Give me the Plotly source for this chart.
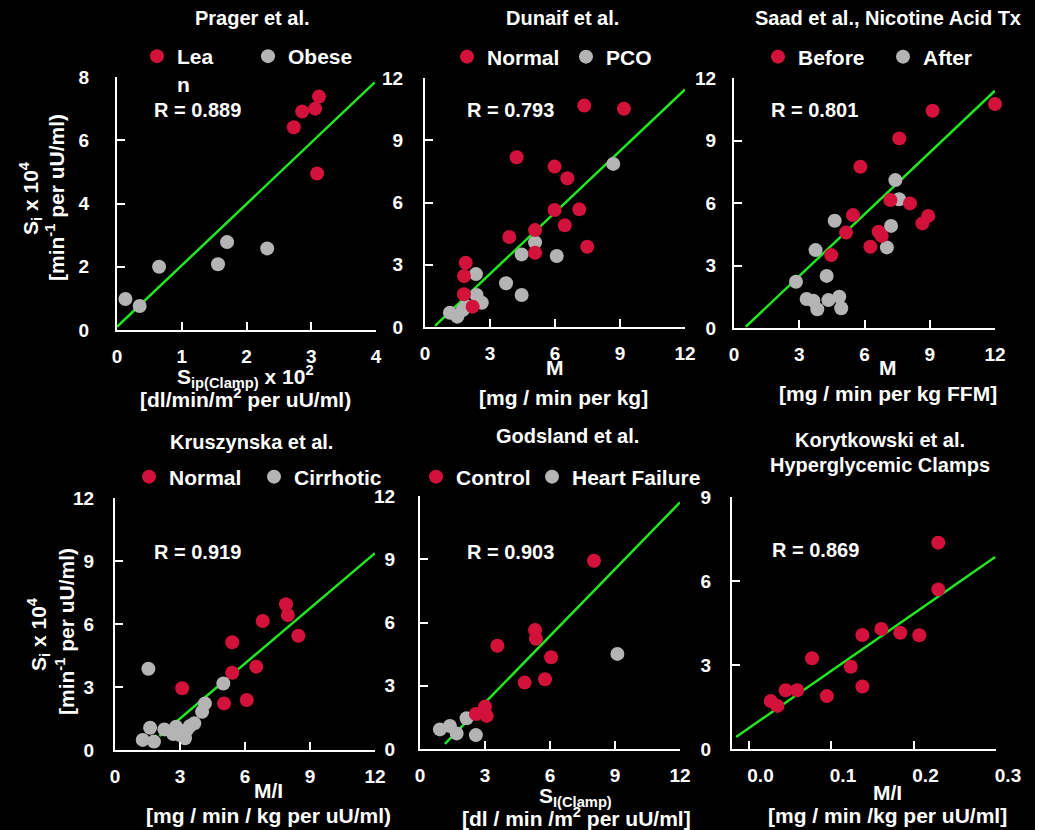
import plotly.graph_objects as go

W, H = 1050, 830
RED = '#D2123A'
GRAY = '#B4B4B4'
GREEN = '#22E622'
FONT = 'Liberation Sans, Arial, sans-serif'

# ---------------- data ----------------
prager_lean_x = [3.12, 2.86, 3.06, 2.73, 3.09]
prager_lean_y = [7.38, 6.91, 7.00, 6.41, 4.95]
prager_obese_x = [0.13, 0.35, 0.65, 1.56, 1.70, 2.32]
prager_obese_y = [0.98, 0.76, 2.00, 2.08, 2.78, 2.58]
prager_fit_x = [0.0, 3.98]
prager_fit_y = [0.10, 7.83]

dunaif_normal_x = [7.35, 9.18, 4.23, 5.98, 6.57, 5.98, 7.12, 5.08, 6.45, 3.89, 7.49, 5.08, 1.88, 1.80, 1.80, 2.20]
dunaif_normal_y = [10.67, 10.52, 8.18, 7.73, 7.17, 5.64, 5.67, 4.67, 4.90, 4.34, 3.87, 3.58, 3.10, 2.46, 1.58, 0.98]
dunaif_pco_x = [8.69, 5.08, 4.46, 6.08, 2.35, 3.74, 4.46, 2.38, 2.62, 1.89, 1.15, 1.49, 1.74]
dunaif_pco_y = [7.86, 4.08, 3.50, 3.42, 2.55, 2.11, 1.54, 1.54, 1.17, 1.01, 0.69, 0.50, 0.82]
dunaif_fit_x = [0.46, 12.0]
dunaif_fit_y = [0.05, 11.45]

saad_before_x = [12.0, 9.13, 7.60, 5.81, 7.19, 8.09, 5.47, 8.93, 8.66, 5.15, 6.65, 6.79, 6.27, 4.47]
saad_before_y = [10.75, 10.43, 9.10, 7.74, 6.14, 5.98, 5.42, 5.38, 5.02, 4.58, 4.62, 4.42, 3.90, 3.50]
saad_after_x = [7.42, 7.59, 4.63, 7.22, 7.03, 3.75, 4.26, 2.85, 3.34, 3.65, 4.34, 4.84, 3.83, 4.93]
saad_after_y = [7.10, 6.18, 5.15, 4.90, 3.87, 3.74, 2.50, 2.22, 1.39, 1.31, 1.34, 1.50, 0.90, 0.95]
saad_fit_x = [0.54, 12.0]
saad_fit_y = [0.06, 11.39]

krus_normal_x = [7.89, 7.98, 6.82, 8.46, 5.41, 6.52, 5.41, 3.10, 6.08, 5.03]
krus_normal_y = [6.94, 6.43, 6.14, 5.44, 5.13, 3.97, 3.68, 2.94, 2.38, 2.22]
krus_cirr_x = [1.54, 5.00, 4.15, 4.02, 3.66, 1.62, 2.28, 2.82, 3.31, 3.00, 2.69, 3.23, 1.28, 1.80, 3.46]
krus_cirr_y = [3.87, 3.17, 2.22, 1.82, 1.27, 1.06, 0.98, 1.11, 0.95, 0.71, 0.76, 0.56, 0.48, 0.40, 1.14]
krus_fit_x = [2.05, 12.0]
krus_fit_y = [0.67, 9.37]

gods_control_x = [8.03, 3.57, 5.31, 5.35, 6.05, 5.77, 4.83, 3.00, 3.08, 2.58, 2.97]
gods_control_y = [8.93, 4.90, 5.65, 5.23, 4.35, 3.31, 3.15, 2.01, 1.57, 1.66, 1.77]
gods_hf_x = [9.11, 2.15, 1.38, 0.92, 1.69, 2.58]
gods_hf_y = [4.51, 1.46, 1.09, 0.93, 0.74, 0.66]
gods_fit_x = [1.15, 12.0]
gods_fit_y = [0.24, 11.70]

kory_x = [0.027, 0.035, 0.045, 0.059, 0.077, 0.095, 0.124, 0.138, 0.138, 0.161, 0.184, 0.207, 0.230, 0.230]
kory_y = [1.71, 1.54, 2.10, 2.10, 3.24, 1.89, 2.94, 2.23, 4.07, 4.29, 4.15, 4.06, 5.70, 7.37]
kory_fit_x = [-0.015, 0.299]
kory_fit_y = [0.43, 6.86]
kory_tickvals = [0.0, 0.1, 0.2, 0.3]
kory_ticktext = ['0.0', '0.1', '0.2', '0.3']

titles = ['Prager et al.', 'Dunaif et al.', 'Saad et al., Nicotine Acid Tx',
          'Kruszynska et al.', 'Godsland et al.', 'Korytkowski et al.', 'Hyperglycemic Clamps']
r_labels = ['R = 0.889', 'R = 0.793', 'R = 0.801', 'R = 0.919', 'R = 0.903', 'R = 0.869']
legend_names = [('Lea<br>n', 'Obese'), ('Normal', 'PCO'), ('Before', 'After'),
                ('Normal', 'Cirrhotic'), ('Control', 'Heart Failure')]


def fx(p):
    return p / W


def fy(p):
    return 1 - p / H


fig = go.Figure()

panels = [
    dict(xp=(117, 376), yp=(77, 330), xr=[0, 4], yr=[0, 8], dx=1, dy=2, so=22, sh=0),
    dict(xp=(425, 685), yp=(78, 327), xr=[0, 12], yr=[0, 12], dx=3, dy=3, so=16, sh=0),
    dict(xp=(734, 995), yp=(78, 328), xr=[0, 12], yr=[0, 12], dx=3, dy=3, so=12, sh=0),
    dict(xp=(115, 375), yp=(498, 750), xr=[0, 12], yr=[0, 12], dx=3, dy=3, so=15, sh=0),
    dict(xp=(420, 680), yp=(496, 749), xr=[0, 12], yr=[0, 12], dx=3, dy=3, so=19, sh=0),
    dict(xp=(732, 996), yp=(497, 749), xr=[-0.02, 0.3], yr=[0, 9], dx=0.1, dy=3, so=15, sh=12),
]

series = [
    (prager_fit_x, prager_fit_y, [(prager_obese_x, prager_obese_y, GRAY), (prager_lean_x, prager_lean_y, RED)]),
    (dunaif_fit_x, dunaif_fit_y, [(dunaif_pco_x, dunaif_pco_y, GRAY), (dunaif_normal_x, dunaif_normal_y, RED)]),
    (saad_fit_x, saad_fit_y, [(saad_after_x, saad_after_y, GRAY), (saad_before_x, saad_before_y, RED)]),
    (krus_fit_x, krus_fit_y, [(krus_cirr_x, krus_cirr_y, GRAY), (krus_normal_x, krus_normal_y, RED)]),
    (gods_fit_x, gods_fit_y, [(gods_hf_x, gods_hf_y, GRAY), (gods_control_x, gods_control_y, RED)]),
    (kory_fit_x, kory_fit_y, [(kory_x, kory_y, RED)]),
]

# legend: (left px, centre y px, red entry width, gray entry width)
legend_pos = [(137, 70, 66, 70), (447, 57, 74, 55), (758, 57, 80, 60), (129, 477, 80, 100), (416, 477, 71, 140)]

layout = dict(
    width=W, height=H, margin=dict(l=0, r=0, t=0, b=0, autoexpand=False),
    paper_bgcolor='black', plot_bgcolor='black',
    font=dict(family=FONT, color='white'),
    showlegend=True,
)

tickfont = dict(family=FONT, size=19, color='white', weight='bold')

for i, (pn, (fxs, fys, groups)) in enumerate(zip(panels, series)):
    k = '' if i == 0 else str(i + 1)
    xa = dict(domain=[fx(pn['xp'][0]), fx(pn['xp'][1])], range=pn['xr'], anchor='y' + k,
              showline=True, linecolor='white', linewidth=2, ticks='inside', ticklen=8,
              tickwidth=2, tickcolor='white', showgrid=False, zeroline=False,
              tickfont=tickfont, ticklabelstandoff=8, ticklabelshift=pn['sh'],
              tick0=0, dtick=pn['dx'], fixedrange=True)
    ya = dict(domain=[fy(pn['yp'][1]), fy(pn['yp'][0])], range=pn['yr'], anchor='x' + k,
              showline=True, linecolor='white', linewidth=2, ticks='inside', ticklen=8,
              tickwidth=2, tickcolor='white', showgrid=False, zeroline=False,
              tickfont=tickfont, ticklabelstandoff=pn['so'], tick0=0, dtick=pn['dy'], fixedrange=True)
    if i == 5:
        xa.update(tickmode='array', tickvals=kory_tickvals, ticktext=kory_ticktext)
    layout['xaxis' + k] = xa
    layout['yaxis' + k] = ya

    fig.add_trace(go.Scatter(x=fxs, y=fys, mode='lines', line=dict(color=GREEN, width=2.5),
                             xaxis='x' + k, yaxis='y' + k, showlegend=False, hoverinfo='skip'))
    lg = 'legend' if i == 0 else 'legend' + str(i + 1)
    for gx, gy, col in groups:
        extra = {}
        if i < 5:
            name = legend_names[i][0] if col == RED else legend_names[i][1]
            extra['legendwidth'] = legend_pos[i][2] if col == RED else legend_pos[i][3]
        else:
            name = ''
        fig.add_trace(go.Scatter(x=gx, y=gy, mode='markers', name=name,
                                 marker=dict(color=col, size=14, line=dict(width=0)),
                                 cliponaxis=False, xaxis='x' + k, yaxis='y' + k,
                                 showlegend=(i < 5), legend=lg,
                                 legendrank=(1 if col == RED else 2), **extra))

for i, (lx, ly, ew, ew2) in enumerate(legend_pos):
    key = 'legend' if i == 0 else 'legend' + str(i + 1)
    layout[key] = dict(orientation='h', x=fx(lx), y=fy(ly), xanchor='left', yanchor='middle',
                       bgcolor='rgba(0,0,0,0)', borderwidth=0,
                       entrywidthmode='pixels', valign='top',
                       font=dict(family=FONT, size=21, color='white', weight='bold'),
                       traceorder='normal', itemclick=False, itemdoubleclick=False)

ann = []


def text(t, x, y, size=20, angle=0):
    ann.append(dict(text=t, x=fx(x), y=fy(y), xref='paper', yref='paper', showarrow=False,
                    xanchor='center', yanchor='middle', textangle=angle,
                    font=dict(family=FONT, size=size, color='white', weight='bold')))


text(titles[0], 252, 18)
text(titles[1], 562, 18)
text(titles[2], 888, 18)
text(titles[3], 251, 442)
text(titles[4], 567, 436)
text(titles[5], 880, 440)
text(titles[6], 880, 465)

for t, (x, y) in zip(r_labels, [(197, 110), (510, 110), (814, 110), (197, 552), (510, 552), (815, 550)]):
    text(t, x, y)

text('S<sub>ip(Clamp)</sub> x 10<sup>2</sup>', 245, 377, 21)
text('[dl/min/m<sup>2</sup> per uU/ml)', 245, 398, 21)
text('M', 555, 368, 21)
text('[mg / min per kg]', 563, 397, 21)
text('M', 888, 367, 21)
text('[mg / min per kg FFM]', 888, 393, 21)
text('M/I', 268, 790, 21)
text('[mg / min / kg per uU/ml)', 268, 815, 21)
text('S<sub>I(Clamp)</sub>', 575, 797, 21)
text('[dl / min /m<sup>2</sup> per uU/ml]', 576, 817, 21)
text('M/I', 887, 792, 21)
text('[mg / min /kg per uU/ml]', 887, 815, 21)

text('S<sub>i</sub> x 10<sup>4</sup>', 30, 198, 21, -90)
text('[min<sup>-1</sup> per uU/ml)', 55, 198, 21, -90)
text('S<sub>i</sub> x 10<sup>4</sup>', 38, 634, 21, -90)
text('[min<sup>-1</sup> per uU/ml)', 65, 632, 21, -90)

layout['annotations'] = ann
layout['shapes'] = [dict(type='rect', xref='paper', yref='paper', x0=fx(1035), x1=1, y0=0, y1=1,
                         fillcolor='white', line=dict(width=0), layer='above')]

fig.update_layout(**layout)
fig.write_html('out.html')
